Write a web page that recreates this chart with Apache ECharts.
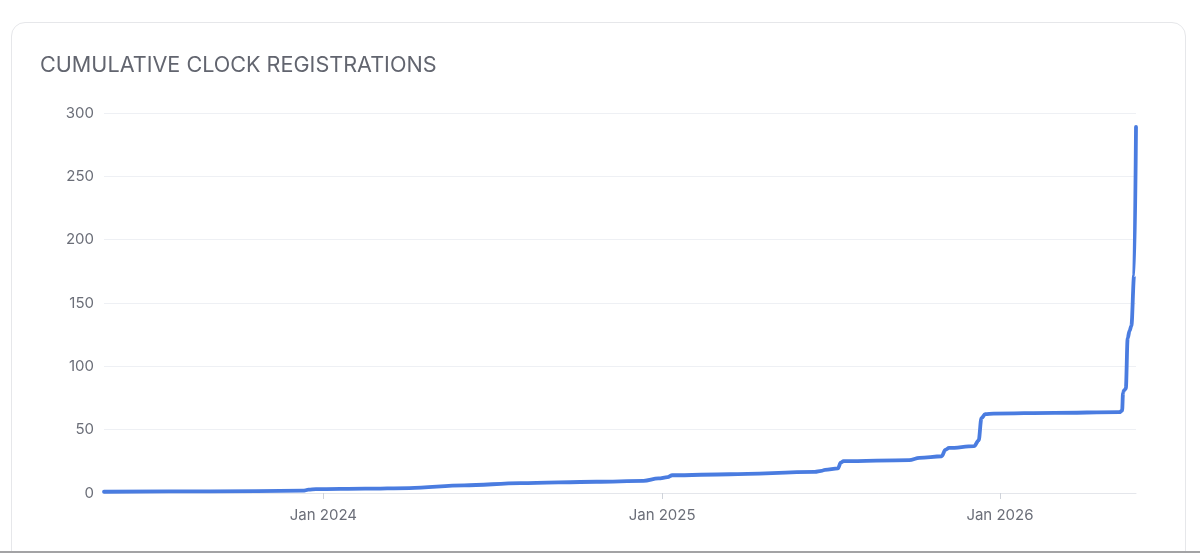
<!DOCTYPE html>
<html>
<head>
<meta charset="utf-8">
<script src="https://cdn.jsdelivr.net/npm/echarts@6/dist/echarts.min.js"></script>
<style>
  html, body { margin: 0; padding: 0; background: #ffffff; width: 1200px; height: 553px; overflow: hidden; }
  #card { position: absolute; left: 11px; top: 22px; width: 1175px; height: 600px; border: 1.5px solid #e6e7ea; border-radius: 14px; background: #ffffff; box-sizing: border-box; }
  #chart { position: absolute; left: 0; top: 0; width: 1200px; height: 553px; }
  #bottomline { position: absolute; left: 0; top: 551px; width: 1200px; height: 2px; background: #a3a3a5; }
</style>
</head>
<body>
<div id="card"></div>
<div id="chart"></div>
<div id="bottomline"></div>
<script>
const titleText = 'CUMULATIVE CLOCK REGISTRATIONS';
const dates = [
  '2023-05-09', '2023-09-01', '2023-12-10', '2023-12-16', '2023-12-24',
  '2024-02-15', '2024-04-03', '2024-06-01', '2024-08-01', '2024-10-22',
  '2024-12-12', '2024-12-28', '2025-01-07', '2025-01-12', '2025-03-15',
  '2025-06-15', '2025-06-22', '2025-06-26', '2025-07-10', '2025-07-13',
  '2025-07-16', '2025-09-25', '2025-10-06', '2025-10-30', '2025-11-03',
  '2025-11-07', '2025-12-04', '2025-12-09', '2025-12-12', '2025-12-16',
  '2025-12-25', '2026-03-01', '2026-05-10', '2026-05-13', '2026-05-14',
  '2026-05-15', '2026-05-17', '2026-05-19', '2026-05-21', '2026-05-23',
  '2026-05-26', '2026-05-28'
];
const registrations = [
  1, 1.3, 1.8, 2.6, 3,
  3.4, 3.9, 6, 7.8, 8.9,
  9.6, 11.5, 12.5, 14, 14.8,
  16.6, 17.4, 18.3, 19.5, 24,
  25.2, 26, 27.8, 29, 34,
  35.6, 37, 41.5, 59, 62.2,
  62.7, 63.3, 63.8, 65, 79,
  81, 82.5, 122, 128, 132,
  172, 289
];
const yearTicks = ['2024-01-01', '2025-01-01', '2026-01-01'];

function parseDay(s) {
  const p = s.split('-').map(Number);
  return Date.UTC(p[0], p[1] - 1, p[2]);
}
const seriesData = dates.map((d, i) => [parseDay(d), registrations[i]]);
const tickValues = yearTicks.map(parseDay);
const monthNames = ['Jan','Feb','Mar','Apr','May','Jun','Jul','Aug','Sep','Oct','Nov','Dec'];

const chart = echarts.init(document.getElementById('chart'), null, { renderer: 'canvas' });
chart.setOption({
  animation: false,
  title: {
    text: titleText,
    left: 35,
    top: 49,
    textStyle: { fontFamily: 'Inter', fontSize: 21.6, fontWeight: 400, color: '#62656f' }
  },
  grid: { left: 104, right: 64, top: 113, bottom: 60, containLabel: false },
  xAxis: {
    type: 'value',
    min: seriesData[0][0],
    max: seriesData[seriesData.length - 1][0],
    axisLine: { show: true, lineStyle: { color: '#e4e6eb', width: 1 } },
    axisTick: { show: true, customValues: tickValues, length: 6, lineStyle: { color: '#cfd3da' } },
    axisLabel: {
      customValues: tickValues,
      margin: 15,
      fontFamily: 'Inter',
      fontSize: 15,
      color: '#6b6e78',
      formatter: function (v) { const d = new Date(v); return monthNames[d.getUTCMonth()] + ' ' + d.getUTCFullYear(); }
    },
    splitLine: { show: false }
  },
  yAxis: {
    type: 'value',
    min: 0,
    max: 300,
    interval: 50,
    axisLine: { show: false },
    axisTick: { show: false },
    axisLabel: { margin: 10, fontFamily: 'Inter', fontSize: 15, color: '#6b6e78' },
    splitLine: { show: true, lineStyle: { color: '#eef0f4', width: 1 } }
  },
  series: [{
    type: 'line',
    data: seriesData,
    showSymbol: false,
    smooth: 0.35,
    smoothMonotone: 'x',
    lineStyle: { color: '#4a7ce0', width: 3.8, cap: 'round', join: 'round' },
    itemStyle: { color: '#4a7ce0' }
  }]
});
</script>
</body>
</html>
